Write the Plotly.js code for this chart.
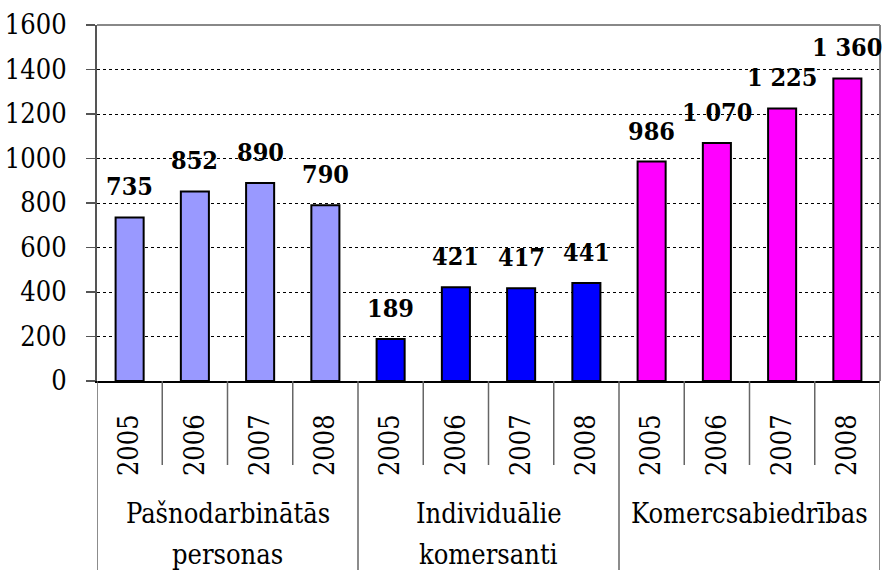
<!DOCTYPE html>
<html>
<head>
<meta charset="utf-8">
<script src="https://cdn.plot.ly/plotly-3.0.1.min.js"></script>
<style>html,body{margin:0;padding:0;background:#fff;}</style>
</head>
<body>
<div id="chart" style="width:883px;height:570px;"></div>
<script>
const groupLine1 = ["Pašnodarbinātās", "Individuālie", "Komercsabiedrības"];
const groupLine2 = ["personas", "komersanti", ""];
const years = ["2005", "2006", "2007", "2008"];
const valuesPasn = [735, 852, 890, 790];
const valuesIndiv = [189, 421, 417, 441];
const valuesKomerc = [986, 1070, 1225, 1360];
const labelsPasn = ["735", "852", "890", "790"];
const labelsIndiv = ["189", "421", "417", "441"];
const labelsKomerc = ["986", "1 070", "1 225", "1 360"];
const yTicks = [0, 200, 400, 600, 800, 1000, 1200, 1400, 1600];

const seriesVals = [valuesPasn, valuesIndiv, valuesKomerc];
const seriesLabels = [labelsPasn, labelsIndiv, labelsKomerc];
const colors = ["#9999FF", "#0000FF", "#FF00FF"];

const FONT = "DejaVu Serif Condensed, DejaVu Serif";
const FS = 27;
const FS_LABEL = 25;
const traces = [];
const annotations = [];
const tickvals = [], ticktext = [];
const shapes = [];
const plotTop = 25, plotBottom = 381;
const plotH = plotBottom - plotTop;
const pyToPaper = (py) => (plotBottom - py) / plotH;

seriesVals.forEach((vals, g) => {
  const xs = years.map((y, j) => g * years.length + j);
  xs.forEach((x, j) => { tickvals.push(x); ticktext.push(years[j]); });
  traces.push({
    type: "bar",
    x: xs,
    y: vals,
    width: 0.43,
    marker: {color: colors[g], line: {color: "#000", width: 2}},
    hoverinfo: "skip",
    showlegend: false
  });
  vals.forEach((v, j) => {
    annotations.push({
      x: xs[j], y: v, xref: "x", yref: "y",
      text: "<b>" + seriesLabels[g][j] + "</b>",
      showarrow: false, yanchor: "bottom", xanchor: "center", yshift: 14,
      font: {family: FONT, size: FS_LABEL, color: "#000"}
    });
  });
  const cx = (xs[0] + xs[xs.length - 1]) / 2;
  [[groupLine1[g], 513], [groupLine2[g], 554]].forEach(([txt, py]) => {
    if (!txt) return;
    annotations.push({
      x: cx, xref: "x", y: pyToPaper(py), yref: "paper",
      text: txt, showarrow: false, yanchor: "middle", xanchor: "center",
      font: {family: FONT, size: FS, color: "#000"}
    });
  });
});

const n = tickvals.length;
for (let i = 0; i <= n; i++) {
  const isGroup = (i % years.length === 0);
  shapes.push({
    type: "line", xref: "x", yref: "paper",
    x0: i - 0.5, x1: i - 0.5, y0: 0,
    y1: isGroup ? pyToPaper(570) : pyToPaper(465),
    line: {color: "#666", width: 1.5}
  });
}
shapes.push({type: "line", xref: "paper", yref: "paper", x0: 0, x1: 1, y0: 1, y1: 1, line: {color: "#888", width: 2}});
shapes.push({type: "line", xref: "paper", yref: "paper", x0: 1, x1: 1, y0: 0, y1: 1, line: {color: "#888", width: 2}});

const layout = {
  width: 883, height: 570,
  margin: {l: 97, r: 3, t: plotTop, b: 570 - plotBottom},
  paper_bgcolor: "#fff", plot_bgcolor: "#fff",
  font: {family: FONT, size: FS, color: "#000"},
  bargap: 0,
  xaxis: {
    type: "linear", range: [-0.5, n - 0.5],
    tickvals: tickvals, ticktext: ticktext, tickangle: -90,
    ticks: "", showgrid: false, zeroline: false,
    showline: true, linecolor: "#000", linewidth: 1.5,
    ticklabelstandoff: 21,
    tickfont: {family: FONT, size: FS, color: "#000"}
  },
  yaxis: {
    range: [0, 1600], tickvals: yTicks,
    ticks: "outside", ticklen: 9, tickcolor: "#555", tickwidth: 1.5,
    showline: true, linecolor: "#555", linewidth: 2,
    showgrid: true, gridcolor: "#000", gridwidth: 1, griddash: "3px,3px",
    zeroline: false,
    ticklabelstandoff: 14,
    tickfont: {family: FONT, size: FS, color: "#000"}
  },
  shapes: shapes,
  annotations: annotations
};

Plotly.newPlot("chart", traces, layout, {staticPlot: true, displayModeBar: false});
</script>
</body>
</html>
